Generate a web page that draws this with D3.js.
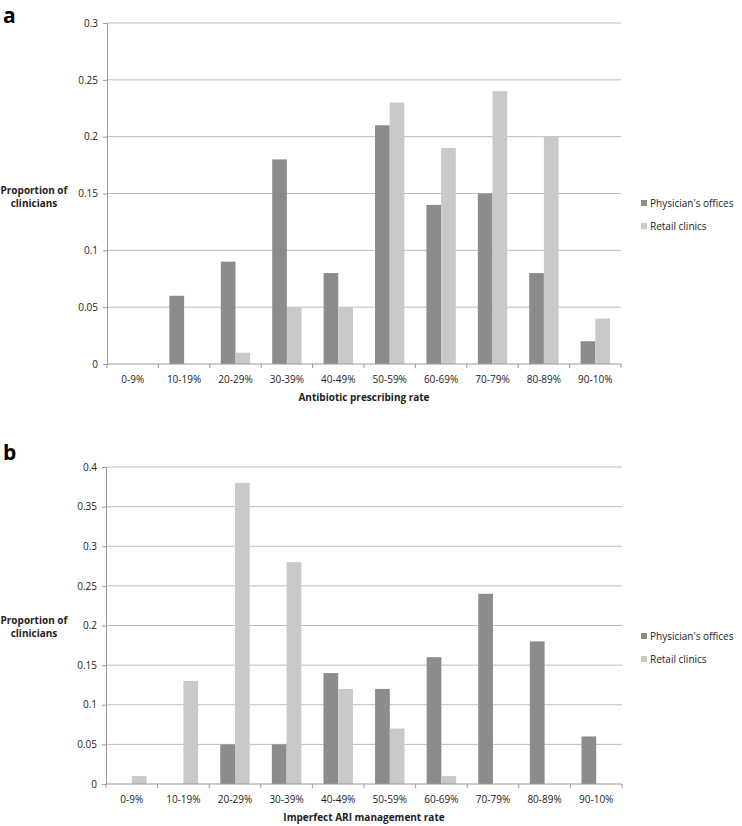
<!DOCTYPE html>
<html>
<head>
<meta charset="utf-8">
<script src="https://cdn.jsdelivr.net/npm/d3@7"></script>
<style>
  body { margin: 0; background: #fff; }
  svg text { font-family: "Open Sans", "DejaVu Sans", sans-serif; }
</style>
</head>
<body>
<div id="chart"></div>
<script>
// Datos
const categories = ['0-9%', '10-19%', '20-29%', '30-39%', '40-49%', '50-59%', '60-69%', '70-79%', '80-89%', '90-10%'];
const seriesNames = ["Physician's offices", 'Retail clinics'];

const physicianA = [0, 0.06, 0.09, 0.18, 0.08, 0.21, 0.14, 0.15, 0.08, 0.02];
const retailA    = [0, 0, 0.01, 0.05, 0.05, 0.23, 0.19, 0.24, 0.20, 0.04];
const ticksA     = [0, 0.05, 0.1, 0.15, 0.2, 0.25, 0.3];

const physicianB = [0, 0, 0.05, 0.05, 0.14, 0.12, 0.16, 0.24, 0.18, 0.06];
const retailB    = [0.01, 0.13, 0.38, 0.28, 0.12, 0.07, 0.01, 0, 0, 0];
const ticksB     = [0, 0.05, 0.1, 0.15, 0.2, 0.25, 0.3, 0.35, 0.4];

const colors = ['#8c8c8c', '#c9c9c9'];

const width = 742, height = 826;
const svg = d3.select('#chart').append('svg')
    .attr('width', width)
    .attr('height', height);

function drawPanel(cfg) {
    const g = svg.append('g');

    const x = d3.scaleBand()
        .domain(categories)
        .range([cfg.left, cfg.right]);

    const xInner = d3.scaleBand()
        .domain(seriesNames)
        .range([0, x.bandwidth()])
        .paddingOuter(0.75)
        .paddingInner(0);

    const y = d3.scaleLinear()
        .domain([0, d3.max(cfg.ticks)])
        .range([cfg.bottom, cfg.top]);

    // Líneas de cuadrícula
    g.selectAll('.grid')
        .data(cfg.ticks.slice(1))
        .enter()
        .append('line')
        .attr('x1', cfg.left)
        .attr('x2', cfg.right)
        .attr('y1', d => y(d))
        .attr('y2', d => y(d))
        .attr('stroke', '#bdbdbd')
        .attr('stroke-width', 1);

    // Eje Y
    const yAxis = g.append('g')
        .attr('transform', `translate(${cfg.left},0)`)
        .call(d3.axisLeft(y).tickValues(cfg.ticks).tickSize(4).tickFormat(d => d3.format('')(+d.toFixed(2))));
    yAxis.select('.domain').attr('stroke', '#9a9a9a');
    yAxis.selectAll('.tick line').attr('stroke', '#9a9a9a');
    yAxis.selectAll('.tick text').attr('font-size', 10).attr('fill', '#222').attr('dx', -2);

    // Barras
    const rows = categories.map((c, i) => ({ cat: c, values: [cfg.physician[i], cfg.retail[i]] }));
    const groups = g.selectAll('.grp')
        .data(rows)
        .enter()
        .append('g')
        .attr('transform', d => `translate(${x(d.cat)},0)`);

    groups.selectAll('rect')
        .data(d => d.values.map((v, j) => ({ name: seriesNames[j], v: v, j: j })))
        .enter()
        .append('rect')
        .attr('x', d => xInner(d.name))
        .attr('width', xInner.bandwidth())
        .attr('y', d => y(d.v))
        .attr('height', d => y(0) - y(d.v))
        .attr('fill', d => colors[d.j]);

    // Eje X
    g.append('line')
        .attr('x1', cfg.left).attr('x2', cfg.right)
        .attr('y1', cfg.bottom).attr('y2', cfg.bottom)
        .attr('stroke', '#9a9a9a');
    const bounds = categories.map(c => x(c)).concat([cfg.right]);
    g.selectAll('.xtick')
        .data(bounds)
        .enter()
        .append('line')
        .attr('x1', d => d).attr('x2', d => d)
        .attr('y1', cfg.bottom).attr('y2', cfg.bottom + 4)
        .attr('stroke', '#9a9a9a');
    g.selectAll('.xlabel')
        .data(categories)
        .enter()
        .append('text')
        .attr('x', d => x(d) + x.bandwidth() / 2)
        .attr('y', cfg.bottom + 19)
        .attr('text-anchor', 'middle')
        .attr('font-size', 10)
        .attr('fill', '#222')
        .text(d => d);

    // Títulos de ejes
    g.append('text')
        .attr('x', (cfg.left + cfg.right) / 2)
        .attr('y', cfg.bottom + 37)
        .attr('text-anchor', 'middle')
        .attr('font-size', 10)
        .attr('font-weight', 'bold')
        .attr('fill', '#222')
        .text(cfg.xTitle);

    const yt = g.append('text')
        .attr('text-anchor', 'middle')
        .attr('font-size', 10)
        .attr('font-weight', 'bold')
        .attr('fill', '#222');
    yt.append('tspan').attr('x', 34).attr('y', cfg.yTitleY).text('Proportion of');
    yt.append('tspan').attr('x', 34).attr('y', cfg.yTitleY + 13).text('clinicians');

    // Etiqueta del panel
    g.append('text')
        .attr('x', 3)
        .attr('y', cfg.letterY)
        .attr('font-size', 21)
        .attr('font-weight', 'bold')
        .attr('font-family', 'Liberation Sans, Arial, sans-serif')
        .attr('fill', '#000')
        .text(cfg.letter);

    // Leyenda
    seriesNames.forEach((name, j) => {
        g.append('rect')
            .attr('x', 641)
            .attr('y', cfg.legendY + j * 23 - 7)
            .attr('width', 6)
            .attr('height', 6)
            .attr('fill', colors[j]);
        g.append('text')
            .attr('x', 650)
            .attr('y', cfg.legendY + j * 23)
            .attr('font-size', 10)
            .attr('fill', '#222')
            .text(name);
    });
}

drawPanel({
    letter: 'a', letterY: 23,
    left: 107, right: 621, top: 23, bottom: 364,
    physician: physicianA, retail: retailA, ticks: ticksA,
    xTitle: 'Antibiotic prescribing rate',
    yTitleY: 194, legendY: 207
});

drawPanel({
    letter: 'b', letterY: 460,
    left: 106, right: 622, top: 467, bottom: 784,
    physician: physicianB, retail: retailB, ticks: ticksB,
    xTitle: 'Imperfect ARI management rate',
    yTitleY: 624, legendY: 640
});
</script>
</body>
</html>
